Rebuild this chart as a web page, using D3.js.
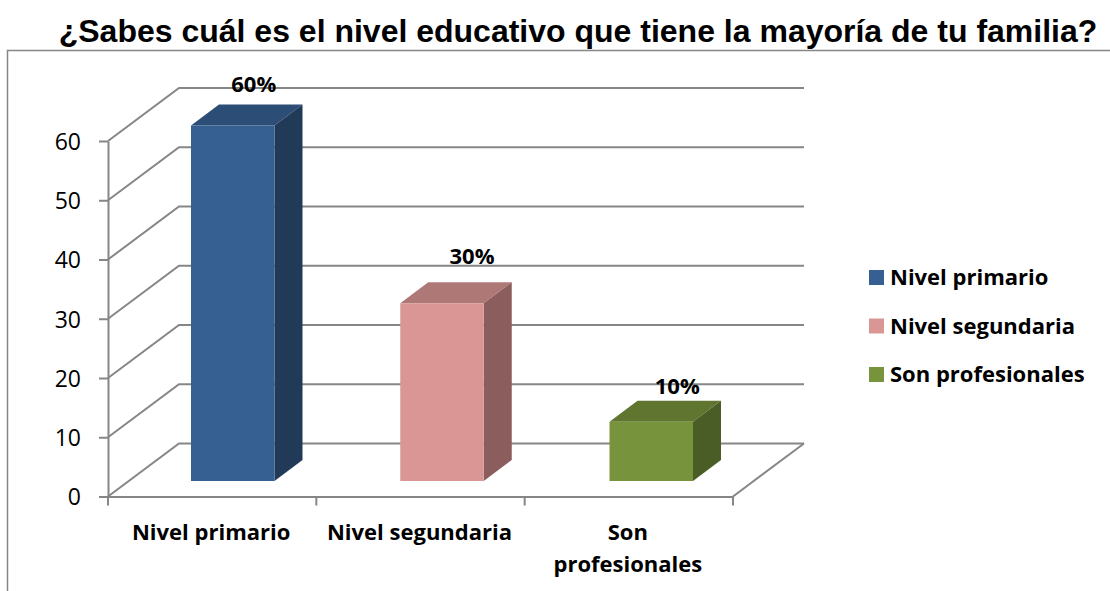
<!DOCTYPE html>
<html>
<head>
<meta charset="utf-8">
<style>
html, body { margin: 0; padding: 0; background: #fff; }
svg { display: block; }
.title { font-family: "Liberation Sans", sans-serif; font-weight: bold; font-size: 32px; fill: #000; }
.tick-label { font-family: "Open Sans", sans-serif; font-size: 23px; fill: #000; }
.cat-label, .legend-label, .value-label { font-family: "Open Sans", sans-serif; font-weight: bold; fill: #000; }
.cat-label, .legend-label { font-size: 22px; }
.value-label { font-size: 22px; }
.grid { fill: none; stroke: #868686; stroke-width: 2; }
.frame { fill: none; stroke: #868686; stroke-width: 1.5; }
.axis path, .axis line { stroke: #868686; stroke-width: 2; }
</style>
</head>
<body>
<svg width="1110" height="591"></svg>
<script src="https://d3js.org/d3.v7.min.js"></script>
<script>
var titleText = '¿Sabes cuál es el nivel educativo que tiene la mayoría de tu familia?';
var categories = ['Nivel primario', 'Nivel segundaria', 'Son profesionales'];
var catLines = [['Nivel primario'], ['Nivel segundaria'], ['Son', 'profesionales']];
var values = [60, 30, 10];
var valueLabels = ['60%', '30%', '10%'];
var yTicks = [0, 10, 20, 30, 40, 50, 60];

var frontColour = ['#376092', '#d99694', '#77933c'];
var topColour = ['#2c4d75', '#ae7876', '#5f7530'];
var sideColour = ['#203a58', '#8b5e5d', '#4b5d26'];

var svg = d3.select('svg');

// oblique projection of the chart box
var depthX = 71, depthY = 53;
var barDepthX = 28, barDepthY = 21;
var barWidth = 83.5;
var base = 481;

var x = d3.scaleBand().domain(categories).range([108, 733]);
var y = d3.scaleLinear().domain([0, 60]).range([496.5, 141]);
// bars stand a bit back on the floor, so they get their own scale
var barX = d3.scalePoint().domain(categories).range([191, 609.5]);

function barTop(i){
    return base - (y(0) - y(values[i]));
}

// outer frame, open on the right and bottom
svg.append('path')
    .attr('class', 'frame')
    .attr('d', 'M1110,50.5H7.5V591');

svg.append('text')
    .attr('class', 'title')
    .attr('x', 578)
    .attr('y', 42)
    .attr('text-anchor', 'middle')
    .text(titleText);

// back wall lines and the diagonals on the left wall
var grid = svg.append('g');
yTicks.forEach(function(t){
    grid.append('path')
        .attr('class', 'grid')
        .attr('d', 'M' + x.range()[0] + ',' + y(t) + 'L' + (x.range()[0] + depthX) + ',' + (y(t) - depthY) + 'H' + (x.range()[1] + depthX));
});
// floor right edge
grid.append('path')
    .attr('class', 'grid')
    .attr('d', 'M' + x.range()[1] + ',' + y(0) + 'L' + (x.range()[1] + depthX) + ',' + (y(0) - depthY));

// axes
var yAxis = d3.axisLeft(y).tickValues(yTicks).tickSize(9).tickPadding(18).tickSizeOuter(0);
var gy = svg.append('g').attr('class', 'axis').attr('transform', 'translate(108,0)').call(yAxis);
gy.attr('font-size', null).attr('font-family', null);
gy.selectAll('text').attr('class', 'tick-label').attr('dy', '0.36em');

var xAxis = d3.axisBottom(x).tickSize(0).tickFormat('');
var gx = svg.append('g').attr('class', 'axis').attr('transform', 'translate(0,' + y(0) + ')').call(xAxis);
gx.selectAll('.tick').remove();
// ticks sit on the band edges
gx.selectAll('line.edge')
    .data(categories.map(function(c){ return x(c); }).concat([x.range()[1]]))
    .enter().append('line')
    .attr('class', 'edge')
    .attr('x1', function(d){ return d; })
    .attr('x2', function(d){ return d; })
    .attr('y1', 0)
    .attr('y2', 9);

// category labels, last one wraps on two lines
var cats = svg.append('g').selectAll('text')
    .data(categories)
    .enter().append('text')
    .attr('class', 'cat-label')
    .attr('text-anchor', 'middle')
    .attr('y', 540);
cats.each(function(d, i){
    var sel = d3.select(this);
    catLines[i].forEach(function(line, j){
        sel.append('tspan')
            .attr('x', x(d) + x.bandwidth() / 2 - 1)
            .attr('dy', j == 0 ? 0 : 32)
            .text(line);
    });
});

// 3d bars
var bars = svg.append('g').selectAll('g')
    .data(categories)
    .enter().append('g');

bars.append('path')
    .attr('fill', function(d, i){ return topColour[i]; })
    .attr('d', function(d, i){
        return 'M' + barX(d) + ',' + barTop(i) + 'l' + barDepthX + ',' + (-barDepthY) + 'h' + barWidth + 'l' + (-barDepthX) + ',' + barDepthY + 'z';
    });
bars.append('path')
    .attr('fill', function(d, i){ return sideColour[i]; })
    .attr('d', function(d, i){
        return 'M' + (barX(d) + barWidth) + ',' + barTop(i) + 'l' + barDepthX + ',' + (-barDepthY) + 'V' + (base - barDepthY) + 'l' + (-barDepthX) + ',' + barDepthY + 'z';
    });
bars.append('rect')
    .attr('fill', function(d, i){ return frontColour[i]; })
    .attr('x', function(d){ return barX(d); })
    .attr('y', function(d, i){ return barTop(i); })
    .attr('width', barWidth)
    .attr('height', function(d, i){ return base - barTop(i); });

// value labels are hand placed in the original
var labelDx = [21, 30, 26];
var labelDy = [-34, -39, -28];
svg.append('g').selectAll('text')
    .data(categories)
    .enter().append('text')
    .attr('class', 'value-label')
    .attr('text-anchor', 'middle')
    .attr('x', function(d, i){ return barX(d) + barWidth / 2 + labelDx[i]; })
    .attr('y', function(d, i){ return barTop(i) + labelDy[i]; })
    .text(function(d, i){ return valueLabels[i]; });

// legend
var legend = svg.append('g').selectAll('g')
    .data(categories)
    .enter().append('g')
    .attr('transform', function(d, i){ return 'translate(869,' + (270 + i * 48.5) + ')'; });
legend.append('rect')
    .attr('width', 15)
    .attr('height', 15)
    .attr('fill', function(d, i){ return frontColour[i]; });
legend.append('text')
    .attr('class', 'legend-label')
    .attr('x', 21)
    .attr('y', 15)
    .text(function(d){ return d; });
</script>
</body>
</html>
